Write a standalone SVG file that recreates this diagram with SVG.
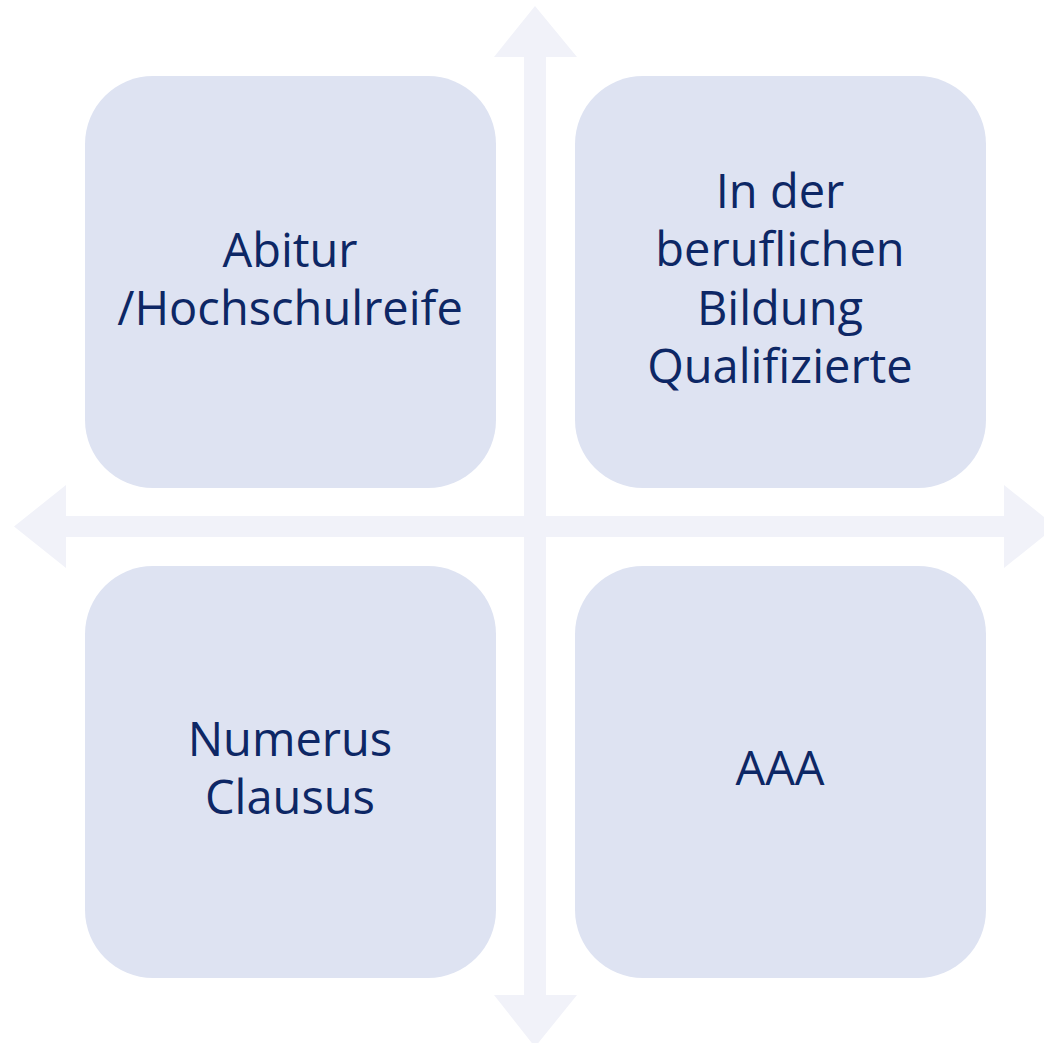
<svg xmlns="http://www.w3.org/2000/svg" width="1044" height="1043" viewBox="0 0 1044 1043">
<style>
.box{fill:#dee3f2;}
.arr{fill:#f1f2f9;}
.t{font-family:"Open Sans","Liberation Sans",sans-serif;font-size:47px;fill:#0d2765;text-anchor:middle;}
</style>
<rect width="1044" height="1043" fill="#ffffff"/>
<g id="connectors">
<polygon class="arr" points="535,6 577,57 546,57 546,516 1004,516 1004,485 1056,526.5 1004,568 1004,537 546,537 546,995 577,995 535,1047 494,995 524,995 524,537 66,537 66,568 14,526.5 66,485 66,516 524,516 524,57 494,57"/>
</g>
<g id="node-tl">
<rect class="box" x="85" y="76" width="411" height="412" rx="68"/>
<text class="t" x="290" y="267">Abitur</text>
<text class="t" x="290" y="325">/Hochschulreife</text>
</g>
<g id="node-tr">
<rect class="box" x="575" y="76" width="411" height="412" rx="68"/>
<text class="t" x="780" y="208">In der</text>
<text class="t" x="780" y="266">beruflichen</text>
<text class="t" x="780" y="325">Bildung</text>
<text class="t" x="780" y="383">Qualifizierte</text>
</g>
<g id="node-bl">
<rect class="box" x="85" y="566" width="411" height="412" rx="68"/>
<text class="t" x="290" y="756">Numerus</text>
<text class="t" x="290" y="814">Clausus</text>
</g>
<g id="node-br">
<rect class="box" x="575" y="566" width="411" height="412" rx="68"/>
<text class="t" x="780" y="785">AAA</text>
</g>
</svg>
